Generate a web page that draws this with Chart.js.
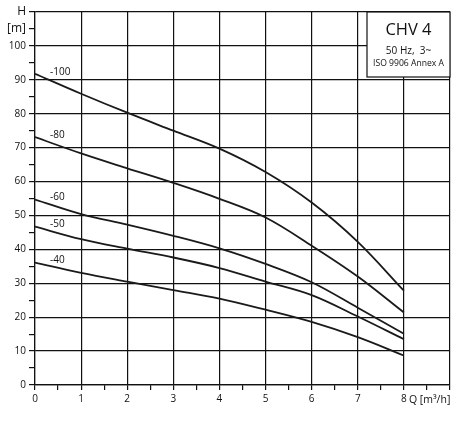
<!DOCTYPE html>
<html>
<head>
<meta charset="utf-8">
<script src="https://cdn.jsdelivr.net/npm/chart.js@4"></script>
<style>
html,body{margin:0;padding:0;background:#fff;}
#wrap{width:463px;height:426px;position:relative;}
</style>
</head>
<body>
<div id="wrap"><canvas id="c"></canvas></div>
<script>
const Q = [0, 1, 2, 3, 4, 5, 6, 7, 8];
const h100 = [91.8, 85.9, 80.3, 75.0, 69.7, 62.8, 53.8, 42.2, 27.8];
const h80 = [73.1, 68.3, 63.9, 59.6, 54.9, 49.4, 41.1, 32.0, 21.4];
const h60 = [54.7, 50.4, 47.3, 44.0, 40.3, 35.7, 30.3, 22.8, 15.1];
const h50 = [46.7, 43.0, 40.2, 37.6, 34.5, 30.5, 26.5, 20.2, 13.5];
const h40 = [36.1, 33.1, 30.5, 28.0, 25.5, 22.2, 18.6, 14.1, 8.7];
const curveNames = ['-100', '-80', '-60', '-50', '-40'];
const curves = [h100, h80, h60, h50, h40];
const title = 'CHV 4';
const subtitle1 = '50 Hz,  3~';
const subtitle2 = 'ISO 9906 Annex A';
const xUnit = 'Q [m³/h]';
const yName = 'H';
const yUnit = '[m]';

const FONT = '"Open Sans", "DejaVu Sans", sans-serif';

const datasets = curves.map((arr, i) => ({
  label: curveNames[i],
  data: Q.map((q, j) => ({x: q, y: arr[j]})),
  borderColor: '#1a1a1a',
  borderWidth: 1.8,
  pointRadius: 0,
  fill: false,
  tension: 0.35
}));

const overlay = {
  id: 'overlay',
  afterDraw(chart) {
    const {ctx, chartArea, scales} = chart;
    const xs = scales.x, ys = scales.y;
    ctx.save();
    // curve labels
    ctx.fillStyle = '#111';
    ctx.font = '10px ' + FONT;
    ctx.textBaseline = 'middle';
    ctx.textAlign = 'left';
    curves.forEach((arr, i) => {
      const px = xs.getPixelForValue(0) + 15;
      const py = ys.getPixelForValue(arr[0]) - 2;
      ctx.fillText(curveNames[i], px, py);
    });
    // x axis unit
    ctx.font = '10.5px ' + FONT;
    ctx.fillText(xUnit, xs.getPixelForValue(8) + 5, xs.top + 15);
    // info box
    const bw = 83, bh = 65;
    const bx = chartArea.right - bw, by = chartArea.top;
    ctx.fillStyle = '#fff';
    ctx.fillRect(bx, by, bw, bh);
    ctx.strokeStyle = '#111';
    ctx.lineWidth = 1.2;
    ctx.strokeRect(bx, by, bw, bh);
    ctx.fillStyle = '#111';
    ctx.textAlign = 'center';
    const cx = bx + bw / 2;
    ctx.font = '16.5px ' + FONT;
    ctx.fillText(title, cx, by + 18);
    ctx.font = '10px ' + FONT;
    ctx.fillText(subtitle1, cx, by + 39.5);
    ctx.font = '8.6px ' + FONT;
    ctx.fillText(subtitle2, cx, by + 51.5);
    ctx.restore();
  }
};

new Chart(document.getElementById('c'), {
  type: 'line',
  data: {datasets},
  plugins: [overlay],
  options: {
    responsive: true,
    maintainAspectRatio: false,
    animation: false,
    devicePixelRatio: 1,
    layout: {padding: {top: 12, right: 13, left: 0, bottom: 0}},
    plugins: {legend: {display: false}, tooltip: {enabled: false}},
    scales: {
      x: {
        type: 'linear',
        min: 0, max: 9,
        afterFit(s) { s.height = 41; },
        afterBuildTicks(s) {
          const t = [];
          for (let v = 0; v <= 18; v++) t.push({value: v / 2});
          s.ticks = t;
        },
        ticks: {
          autoSkip: false, maxRotation: 0, minRotation: 0,
          padding: 3,
          color: '#111',
          font: {family: FONT, size: 10},
          callback(v) {
            if (Number.isInteger(v) && v <= 8) return String(v);
            return '';
          }
        },
        grid: {
          color: (c) => (c.tick && Number.isInteger(c.tick.value)) ? '#111' : 'rgba(0,0,0,0)',
          lineWidth: 1.2,
          tickColor: '#111',
          tickLength: 5,
          tickWidth: 1.2
        },
        border: {display: true, color: '#111', width: 1.2}
      },
      y: {
        type: 'linear',
        min: 0, max: 110,
        afterFit(s) { s.width = 35; },
        afterBuildTicks(s) {
          const t = [];
          for (let v = 0; v <= 110; v += 5) t.push({value: v});
          s.ticks = t;
        },
        ticks: {
          autoSkip: false,
          padding: 3,
          color: '#111',
          font: (c) => ({family: FONT, size: (c.tick && c.tick.value >= 105) ? 12 : 10}),
          callback(v) {
            if (v === 110) return yName;
            if (v === 105) return yUnit;
            if (v % 10 === 0) return String(v);
            return '';
          }
        },
        grid: {
          color: (c) => (c.tick && c.tick.value % 10 === 0) ? '#111' : 'rgba(0,0,0,0)',
          lineWidth: 1.2,
          tickColor: '#111',
          tickLength: 6,
          tickWidth: 1.2
        },
        border: {display: true, color: '#111', width: 1.2}
      }
    }
  }
});
</script>
</body>
</html>
